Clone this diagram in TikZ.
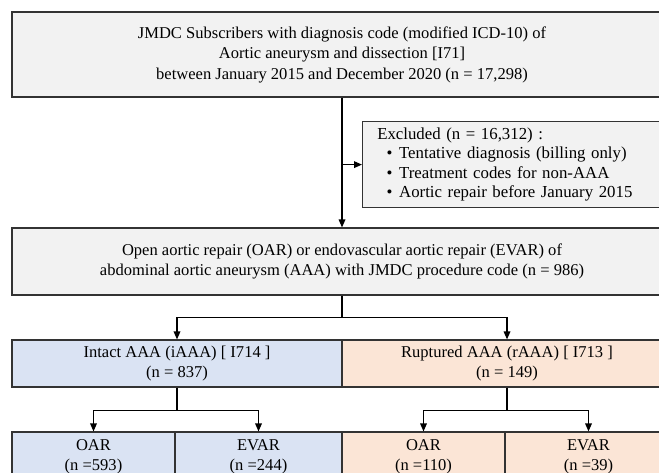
\documentclass[tikz,border=0pt]{standalone}
\usepackage{fontspec}
\setmainfont{Liberation Serif}
\usetikzlibrary{arrows.meta, positioning}
\definecolor{boxgray}{HTML}{F2F2F2}
\definecolor{boxblue}{HTML}{DAE3F3}
\definecolor{boxorange}{HTML}{FBE5D6}
\tikzset{
  flowbox/.style={draw=black!80, line width=0.9pt, inner sep=0pt, align=center,
    font=\fontsize{12.4}{15.4}\selectfont},
  link/.style={line width=0.9pt, -{Triangle[length=6pt, width=5pt]}},
}

\begin{document}
\begin{tikzpicture}[x=0.75pt, y=-0.75pt]
		\useasboundingbox (0,0) rectangle (659,472);
		\clip (0,0) rectangle (659,472);
		\draw (342,54.5) node[flowbox, fill=boxgray, minimum width=495pt, minimum height=63.75pt] (s1)
			{JMDC Subscribers with diagnosis code (modified ICD-10) of\\
			 Aortic aneurysm and dissection [I71]\\
			 between January 2015 and December 2020 (n = 17,298)}
		(362,121) node[flowbox, fill=boxgray, anchor=north west, align=left, text width=260pt,
			inner xsep=11pt, minimum height=64.5pt, font=\fontsize{12.6}{14.6}\selectfont] (ex)
			{Excluded (n = 16,312) :\\
			 \hspace*{7pt}\textbullet\hspace{5pt}Tentative diagnosis (billing only)\\
			 \hspace*{7pt}\textbullet\hspace{5pt}Treatment codes for non-AAA\\
			 \hspace*{7pt}\textbullet\hspace{5pt}Aortic repair before January 2015}
		(342,261.5) node[flowbox, fill=boxgray, minimum width=495pt, minimum height=50.25pt] (s2)
			{Open aortic repair (OAR) or endovascular aortic repair (EVAR) of\\
			 abdominal aortic aneurysm (AAA) with JMDC procedure code (n = 986)}
		(177,363.5) node[flowbox, fill=boxblue, minimum width=247.5pt, minimum height=35.25pt] (i1)
			{Intact AAA (iAAA) [ I714 ]\\(n = 837)}
		(507,363.5) node[flowbox, fill=boxorange, minimum width=247.5pt, minimum height=35.25pt] (r1)
			{Ruptured AAA (rAAA) [ I713 ]\\(n = 149)}
		(93.5,457) node[flowbox, fill=boxblue, minimum width=122.25pt, minimum height=37.5pt] (io)
			{OAR\\(n =593)}
		(258.5,457) node[flowbox, fill=boxblue, minimum width=125.25pt, minimum height=37.5pt] (ie)
			{EVAR\\(n =244)}
		(423.5,457) node[flowbox, fill=boxorange, minimum width=122.25pt, minimum height=37.5pt] (ro)
			{OAR\\(n =110)}
		(588.5,457) node[flowbox, fill=boxorange, minimum width=125.25pt, minimum height=37.5pt] (re)
			{EVAR\\(n =39)};
		
		\draw[link] (s1) -- (s2);
		\draw[link] (s1.south |- ex.west) -- (ex.west);
		
		\draw[line width=0.9pt] (s2.south) -- ++(0,22) coordinate (b1);
		\draw[link] (b1) -| (i1);
		\draw[link] (b1) -| (r1);
		
		\draw[line width=0.9pt] (i1.south) -- ++(0,23) coordinate (b2);
		\draw[link] (b2) -| (io);
		\draw[link] (b2) -| (ie);
		
		\draw[line width=0.9pt] (r1.south) -- ++(0,23) coordinate (b3);
		\draw[link] (b3) -| (ro);
		\draw[link] (b3) -| (re);
	\end{tikzpicture}
\end{document}
